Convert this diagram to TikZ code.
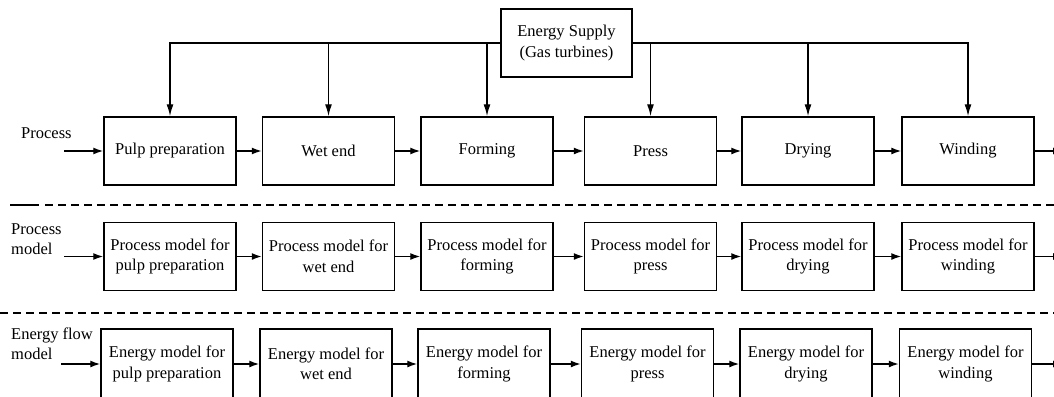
\documentclass[tikz,border=0pt]{standalone}
\usepackage{fontspec}
\setmainfont{Liberation Serif}
\usetikzlibrary{arrows.meta,positioning}

\begin{document}
\begin{tikzpicture}[
  x=1pt,y=-1pt,
  every node/.style={font=\fontsize{16.5}{20.5}\selectfont},
  stage/.style={draw,line width=1.5pt,minimum width=132pt,minimum height=68pt,
                inner sep=0pt,align=center},
  lbl/.style={anchor=west,align=left,inner sep=0pt},
  arr/.style={-{Latex[length=10pt,width=7pt]},line width=1.4pt},
  bus/.style={-{Latex[length=12pt,width=7pt]},line width=1.4pt},
  sep/.style={line width=1.2pt,dash pattern=on 8pt off 5pt},
]
  \useasboundingbox (0,0) rectangle (1054,396);

  % Energy supply
  \node[stage,minimum width=131pt] (supply) at (566.5,43) {Energy Supply\\(Gas turbines)};

  % Process
  \node[stage] (pulp)    at (170,151)   {Pulp preparation};
  \node[stage] (wetend)  at (328.5,151) {Wet end};
  \node[stage] (forming) at (487,151)   {Forming};
  \node[stage] (press)   at (650.5,151) {Press};
  \node[stage] (drying)  at (808,151)   {Drying};
  \node[stage] (winding) at (968,151)   {Winding};

  % Process models
  \node[stage] (mpulp)    at (170,256.5)   {Process model for\\pulp preparation};
  \node[stage] (mwetend)  at (328.5,256.5) {Process model for\\wet end};
  \node[stage] (mforming) at (487,256.5)   {Process model for\\forming};
  \node[stage] (mpress)   at (650.5,256.5) {Process model for\\press};
  \node[stage] (mdrying)  at (808,256.5)   {Process model for\\drying};
  \node[stage] (mwinding) at (968,256.5)   {Process model for\\winding};

  % Energy flow models
  \node[stage,minimum height=70pt] (epulp)    at (167,364)   {Energy model for\\pulp preparation};
  \node[stage,minimum height=70pt] (ewetend)  at (326,364)   {Energy model for\\wet end};
  \node[stage,minimum height=70pt] (eforming) at (484,364)   {Energy model for\\forming};
  \node[stage,minimum height=70pt] (epress)   at (647.5,364) {Energy model for\\press};
  \node[stage,minimum height=70pt] (edrying)  at (806,364)   {Energy model for\\drying};
  \node[stage,minimum height=70pt] (ewinding) at (965.5,364) {Energy model for\\winding};

  % Row labels
  \node[lbl] (lproc)   at (21,133)  {Process};
  \node[lbl] (lmodel)  at (11,239)  {Process\\model};
  \node[lbl] (lenergy) at (11,344)  {Energy flow\\model};

  % Free ends
  \coordinate (in1) at (64,151);
  \coordinate (in2) at (64,256.5);
  \coordinate (in3) at (61,364);
  \coordinate (out1) at (1063,151);
  \coordinate (out2) at (1063,256.5);
  \coordinate (out3) at (1063,364);

  % Energy supply to every stage
  \draw[bus] (supply.west) -| (pulp.north);
  \draw[bus] (supply.west) -| (wetend.north);
  \draw[bus] (supply.west) -| (forming.north);
  \draw[bus] (supply.east) -| (press.north);
  \draw[bus] (supply.east) -| (drying.north);
  \draw[bus] (supply.east) -| (winding.north);

  % Process chain
  \draw[arr] (in1) -- (pulp);
  \draw[arr] (pulp) -- (wetend);
  \draw[arr] (wetend) -- (forming);
  \draw[arr] (forming) -- (press);
  \draw[arr] (press) -- (drying);
  \draw[arr] (drying) -- (winding);
  \draw[arr] (winding) -- (out1);

  % Process model chain
  \draw[arr] (in2) -- (mpulp);
  \draw[arr] (mpulp) -- (mwetend);
  \draw[arr] (mwetend) -- (mforming);
  \draw[arr] (mforming) -- (mpress);
  \draw[arr] (mpress) -- (mdrying);
  \draw[arr] (mdrying) -- (mwinding);
  \draw[arr] (mwinding) -- (out2);

  % Energy flow model chain
  \draw[arr] (in3) -- (epulp);
  \draw[arr] (epulp) -- (ewetend);
  \draw[arr] (ewetend) -- (eforming);
  \draw[arr] (eforming) -- (epress);
  \draw[arr] (epress) -- (edrying);
  \draw[arr] (edrying) -- (ewinding);
  \draw[arr] (ewinding) -- (out3);

  % Separators
  \draw[line width=1.2pt] (10,205) -- (39,205);
  \draw[sep] (45,205) -- (1054,205);
  \draw[sep] (0,313) -- (1054,313);
\end{tikzpicture}
\end{document}
